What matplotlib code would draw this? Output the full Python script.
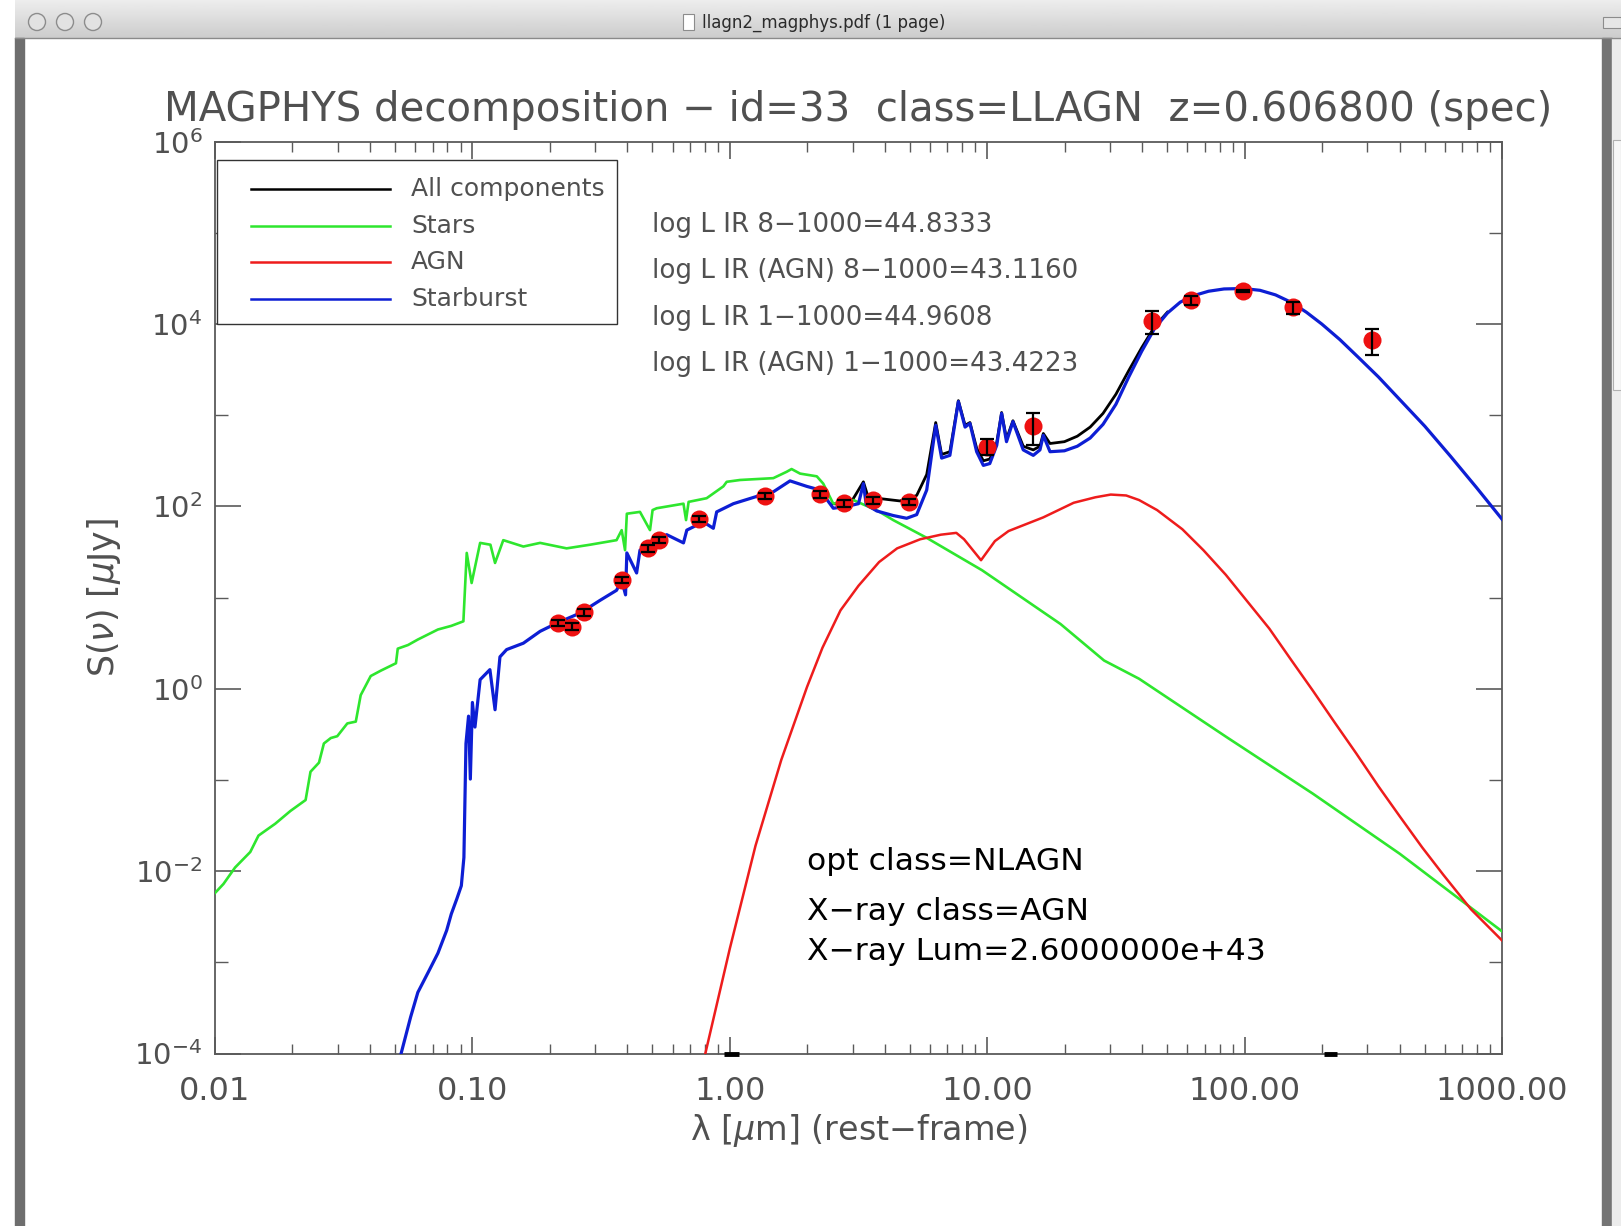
import numpy as np
import matplotlib
matplotlib.use('Agg')
import matplotlib.pyplot as plt
from matplotlib.patches import Rectangle, Circle
from matplotlib.ticker import FixedLocator, FixedFormatter, NullFormatter, LogLocator

W, H = 1621, 1226

# SED components: log10(lambda / um) and log10(S / uJy)
stars_loglam = np.array([-2.0, -1.967, -1.922, -1.863, -1.831, -1.766, -1.707, -1.648, -1.629, -1.596,
                         -1.577, -1.55, -1.525, -1.486, -1.453, -1.434, -1.395, -1.355, -1.297, -1.29,
                         -1.25, -1.212, -1.134, -1.082, -1.035, -1.022, -1.003, -0.97, -0.93, -0.912,
                         -0.88, -0.802, -0.737, -0.634, -0.543, -0.44, -0.42, -0.407, -0.40, -0.349,
                         -0.31, -0.30, -0.284, -0.18, -0.17, -0.16, -0.09, -0.025, -0.012, 0.04,
                         0.169, 0.221, 0.24, 0.273, 0.338, 0.363, 0.402, 0.48, 0.576, 0.635,
                         0.762, 0.98, 1.285, 1.454, 1.59, 1.93, 2.265, 2.603, 3.0])
stars_logS = np.array([-2.24, -2.14, -1.96, -1.79, -1.61, -1.48, -1.34, -1.22, -0.91, -0.81,
                       -0.60, -0.54, -0.52, -0.38, -0.36, -0.07, 0.14, 0.20, 0.28, 0.44,
                       0.48, 0.54, 0.65, 0.69, 0.74, 1.49, 1.16, 1.60, 1.58, 1.38,
                       1.63, 1.56, 1.60, 1.54, 1.58, 1.63, 1.74, 1.52, 1.92, 1.94,
                       1.74, 1.96, 1.98, 2.03, 1.85, 2.05, 2.09, 2.22, 2.27, 2.29,
                       2.31, 2.38, 2.41, 2.36, 2.33, 2.25, 2.03, 2.07, 1.95, 1.85,
                       1.66, 1.30, 0.71, 0.31, 0.11, -0.53, -1.15, -1.81, -2.66])

agn_loglam = np.array([-0.095, 0.0, 0.1, 0.2, 0.25, 0.3, 0.36, 0.43, 0.5, 0.58,
                       0.65, 0.74, 0.82, 0.88, 0.91, 0.976, 1.03, 1.083, 1.218, 1.336,
                       1.42, 1.48, 1.54, 1.59, 1.66, 1.758, 1.84, 1.927, 2.01, 2.096,
                       2.18, 2.265, 2.35, 2.434, 2.52, 2.603, 2.69, 2.772, 2.88, 3.0])
agn_logS = np.array([-4.0, -2.85, -1.72, -0.78, -0.38, 0.02, 0.45, 0.86, 1.13, 1.39,
                     1.54, 1.64, 1.69, 1.71, 1.64, 1.41, 1.62, 1.73, 1.88, 2.04,
                     2.10, 2.13, 2.12, 2.07, 1.96, 1.75, 1.52, 1.25, 0.96, 0.66,
                     0.32, -0.02, -0.37, -0.71, -1.07, -1.40, -1.74, -2.04, -2.42, -2.76])

sb_loglam = np.array([-1.277, -1.24, -1.212, -1.17, -1.134, -1.10, -1.082, -1.06, -1.043, -1.033,
                      -1.025, -1.015, -1.008, -1.0, -0.99, -0.97, -0.932, -0.912, -0.893, -0.867,
                      -0.802, -0.737, -0.672, -0.582, -0.504, -0.44, -0.42, -0.405, -0.40, -0.362,
                      -0.349, -0.297, -0.245, -0.18, -0.167, -0.103, -0.064, -0.051, 0.014, 0.105,
                      0.169, 0.234, 0.299, 0.35, 0.402, 0.454, 0.50, 0.519, 0.53, 0.571,
                      0.635, 0.687, 0.726, 0.765, 0.80, 0.823, 0.855, 0.888, 0.914, 0.933,
                      0.959, 0.985, 1.01, 1.037, 1.056, 1.075, 1.10, 1.14, 1.179, 1.205,
                      1.218, 1.244, 1.30, 1.35, 1.40, 1.45, 1.50, 1.55, 1.60, 1.65,
                      1.70, 1.75, 1.80, 1.86, 1.92, 1.995, 2.06, 2.12, 2.18, 2.24,
                      2.30, 2.37, 2.44, 2.52, 2.60, 2.70, 2.80, 2.90, 3.0])
sb_logS = np.array([-4.0, -3.6, -3.33, -3.1, -2.90, -2.65, -2.47, -2.3, -2.16, -1.85,
                    -0.6, -0.3, -0.99, -0.15, -0.42, 0.10, 0.21, -0.23, 0.35, 0.43,
                    0.50, 0.63, 0.72, 0.83, 0.97, 1.08, 1.19, 1.03, 1.49, 1.27,
                    1.52, 1.63, 1.69, 1.60, 1.74, 1.83, 1.76, 1.94, 2.03, 2.11,
                    2.16, 2.28, 2.22, 2.18, 1.98, 2.0, 2.03, 2.25, 2.02, 1.95,
                    1.90, 1.87, 1.91, 2.18, 2.89, 2.53, 2.56, 3.15, 2.87, 2.91,
                    2.60, 2.45, 2.47, 2.67, 3.02, 2.71, 2.93, 2.62, 2.56, 2.62,
                    2.78, 2.60, 2.61, 2.66, 2.75, 2.90, 3.12, 3.42, 3.70, 3.95,
                    4.12, 4.24, 4.31, 4.36, 4.385, 4.39, 4.37, 4.32, 4.24, 4.13,
                    4.00, 3.83, 3.64, 3.42, 3.18, 2.88, 2.55, 2.21, 1.86])

tot_loglam = np.array([0.40, 0.45, 0.47, 0.519, 0.54, 0.571, 0.661, 0.726, 0.765, 0.80,
                       0.823, 0.855, 0.888, 0.914, 0.933, 0.959, 0.985, 1.01, 1.037, 1.056,
                       1.075, 1.10, 1.14, 1.179, 1.205, 1.218, 1.244, 1.30, 1.35, 1.40,
                       1.45, 1.50, 1.55, 1.60, 1.65, 1.70])
tot_logS = np.array([2.03, 2.02, 2.04, 2.27, 2.08, 2.09, 2.06, 2.12, 2.35, 2.92,
                     2.57, 2.60, 3.16, 2.89, 2.92, 2.64, 2.50, 2.52, 2.70, 3.03,
                     2.74, 2.94, 2.66, 2.62, 2.66, 2.80, 2.69, 2.71, 2.77, 2.87,
                     3.02, 3.23, 3.49, 3.74, 3.97, 4.13])

# photometry (um, uJy)
phot_lam = np.array([0.216, 0.243, 0.272, 0.38, 0.482, 0.531, 0.762, 1.37, 2.24, 2.79,
                     3.61, 4.97, 9.96, 15.0, 43.6, 61.8, 98.9, 154.5, 312.0])
phot_flux = np.array([5.3, 4.8, 6.9, 15.6, 34.7, 42.7, 72.8, 130, 136, 108,
                      117, 112, 452, 760, 10800, 18300, 23200, 15200, 6680])
phot_err = np.array([0.4, 0.4, 0.55, 1.3, 2.8, 3.4, 6.0, 10.5, 11, 8.6,
                     9.4, 9.0, 90, 290, 3000, 2000, 700, 2300, 2100])

# points below the plot floor, drawn as short dashes on the axis
floor_lam_lo = [0.95, 203.0]
floor_lam_hi = [1.09, 229.0]

legend_labels = ['All components', 'Stars', 'AGN', 'Starburst']
info_lines = ['log L IR 8\u22121000=44.8333', 'log L IR (AGN) 8\u22121000=43.1160',
              'log L IR 1\u22121000=44.9608', 'log L IR (AGN) 1\u22121000=43.4223']
class_lines = ['opt class=NLAGN', 'X\u2212ray class=AGN', 'X\u2212ray Lum=2.6000000e+43']

GRAY = '#505050'
C_TOT, C_ST, C_AGN, C_SB = 'black', '#2ee62e', '#ee1c1c', '#0d1ed4'

fig = plt.figure(figsize=(W / 100, H / 100), dpi=100)

# window chrome, drawn in pixel coordinates
bg = fig.add_axes([0, 0, 1, 1])
bg.set_xlim(0, W)
bg.set_ylim(H, 0)
bg.axis('off')
grad = np.linspace(0.93, 0.80, 40)[:, None]
bg.imshow(grad, extent=(15, W, 38, 0), cmap='gray', vmin=0, vmax=1, aspect='auto')
bg.plot([15, W], [38, 38], color='#8a8a8a', lw=1)
bg.add_patch(Rectangle((15, 38), 9, H - 38, color='#6e6e6e'))
bg.add_patch(Rectangle((1602, 38), 10, H - 38, color='#747474'))
bg.add_patch(Rectangle((1612, 38), 9, H - 38, color='#ececec'))
bg.add_patch(Rectangle((1613, 140), 8, 250, fc='#f7f7f7', ec='#b0b0b0', lw=0.8))
for cx in (37, 65, 93):
    bg.add_patch(Circle((cx, 22), 8.5, fc='#e2e2e2', ec='#8c8c8c', lw=1))
bg.add_patch(Rectangle((1603, 17), 18, 11, fc='#e6e6e6', ec='#8c8c8c', lw=0.8))
bg.add_patch(Rectangle((683, 14), 11, 16, fc='white', ec='#8c8c8c', lw=0.8))
bg.text(824, 23, 'llagn2_magphys.pdf (1 page)', ha='center', va='center',
        fontsize=12, color='#2a2a2a')

AX_L, AX_B, AX_W, AX_H = 215, 1053.5, 1287, 911.8
ax = fig.add_axes([AX_L / W, 1 - AX_B / H, AX_W / W, AX_H / H])
ax.set_xscale('log')
ax.set_yscale('log')
ax.set_xlim(0.01, 1000)
ax.set_ylim(1e-4, 1e6)


def px(x, y):
    # figure pixel (from top-left) -> axes fraction
    return (x - AX_L) / AX_W, (AX_B - y) / AX_H


ax.plot(10 ** tot_loglam, 10 ** tot_logS, color=C_TOT, lw=2.0, zorder=2)
ax.plot(10 ** stars_loglam, 10 ** stars_logS, color=C_ST, lw=1.9, zorder=3)
ax.plot(10 ** agn_loglam, 10 ** agn_logS, color=C_AGN, lw=1.8, zorder=3)
ax.plot(10 ** sb_loglam, 10 ** sb_logS, color=C_SB, lw=2.3, zorder=4)

ax.plot(phot_lam, phot_flux, 'o', color='#ee1111', ms=13, mec='none', zorder=5)
ax.errorbar(phot_lam, phot_flux, yerr=phot_err, fmt='none', ecolor='black',
            elinewidth=1.6, capsize=5, capthick=1.6, zorder=6)
ax.hlines([1e-4, 1e-4], floor_lam_lo, floor_lam_hi, color='black', lw=3.5, zorder=6, clip_on=False)

for sp in ax.spines.values():
    sp.set_color('#5a5a5a')
    sp.set_linewidth(1.3)

ax.xaxis.set_major_locator(FixedLocator([0.01, 0.1, 1, 10, 100, 1000]))
ax.xaxis.set_major_formatter(FixedFormatter(['0.01', '0.10', '1.00', '10.00', '100.00', '1000.00']))
ax.xaxis.set_minor_locator(LogLocator(base=10, subs=np.arange(2, 10)))
ax.xaxis.set_minor_formatter(NullFormatter())
ax.yaxis.set_major_locator(FixedLocator([1e-4, 1e-2, 1, 1e2, 1e4, 1e6]))
ax.yaxis.set_major_formatter(FixedFormatter([r'$10^{-4}$', r'$10^{-2}$', r'$10^{0}$',
                                             r'$10^{2}$', r'$10^{4}$', r'$10^{6}$']))
ax.yaxis.set_minor_locator(FixedLocator([1e-3, 1e-1, 1e1, 1e3, 1e5]))
ax.yaxis.set_minor_formatter(NullFormatter())

ax.tick_params(which='both', direction='in', top=True, right=True, color='#5a5a5a',
               labelcolor=GRAY)
ax.xaxis.set_tick_params(which='major', length=12, width=1.2, pad=16, labelsize=23)
ax.xaxis.set_tick_params(which='minor', length=7, width=1.0)
ax.yaxis.set_tick_params(which='major', length=19, width=1.2, pad=9, labelsize=21)
ax.yaxis.set_tick_params(which='minor', length=9.5, width=1.0)

ax.set_xlabel('\u03bb [$\\mu$m] (rest\u2212frame)', fontsize=24, color=GRAY, labelpad=4)
ax.set_ylabel('S($\\nu$) [$\\mu$Jy]', fontsize=25, color=GRAY, labelpad=8)

fig.text(858 / W, 1 - 110 / H,
         'MAGPHYS decomposition \u2212 id=33  class=LLAGN  z=0.606800 (spec)',
         ha='center', va='center', fontsize=29, color=GRAY)

# legend box, laid out like the original
x0, y0 = px(217, 324)
x1, y1 = px(617, 160)
ax.add_patch(Rectangle((x0, y0), x1 - x0, y1 - y0, transform=ax.transAxes,
                       fc='white', ec='#333333', lw=1.0, zorder=7))
for i, (lab, col) in enumerate(zip(legend_labels, [C_TOT, C_ST, C_AGN, C_SB])):
    ry = 189 + i * 36.6
    a, b = px(251, ry)
    c, _ = px(390, ry)
    ax.plot([a, c], [b, b], color=col, lw=1.8, transform=ax.transAxes, zorder=8)
    tx, _ = px(411, ry)
    ax.text(tx, b, lab, transform=ax.transAxes, ha='left', va='center',
            fontsize=18, color=GRAY, zorder=8)

for i, s in enumerate(info_lines):
    fig.text(652 / W, 1 - (225 + i * 46.5) / H, s, ha='left', va='center',
             fontsize=18.8, color=GRAY)
for i, yy in enumerate([862, 911, 952]):
    fig.text(807 / W, 1 - yy / H, class_lines[i], ha='left', va='center',
             fontsize=22.6, color='black')

fig.savefig('out.png', dpi=100)
